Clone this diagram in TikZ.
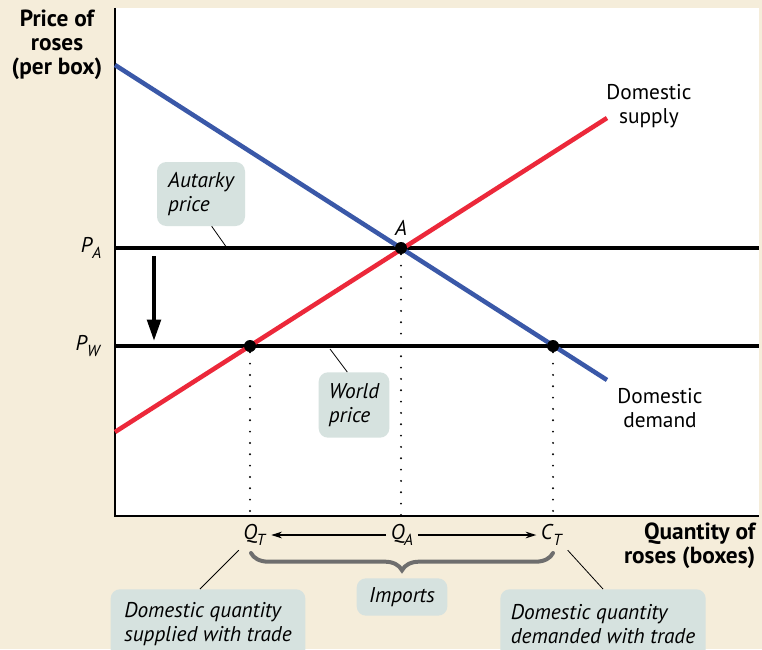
\documentclass[tikz,border=0pt]{standalone}
\usepackage{fontspec}
\setmainfont{PT Sans}
\usetikzlibrary{arrows.meta,decorations.pathreplacing}

\definecolor{bgbeige}{RGB}{245,237,218}
\definecolor{demandblue}{RGB}{58,88,168}
\definecolor{supplyred}{RGB}{236,40,58}
\definecolor{calloutfill}{RGB}{214,226,223}
\definecolor{bracegray}{RGB}{110,110,110}

\newcommand{\itsub}[2]{\textit{#1}\kern-0.5pt\raisebox{-0.55ex}{\fontsize{12}{12}\selectfont\textit{#2}}}

\tikzset{
	curve/.style={line width=3.4pt},
	priceline/.style={line width=2.3pt},
	eqdot/.style={circle, fill=black, inner sep=0pt, minimum size=9pt},
	guide/.style={line width=1.6pt, line cap=round, dash pattern=on 0pt off 8.5pt},
	lab/.style={font=\fontsize{16}{18.5}\selectfont, align=center},
	callout/.style={fill=calloutfill, rounded corners=7pt, align=left, font=\fontsize{16}{18.5}\selectfont\itshape, inner xsep=7pt, inner ysep=5pt},
	leader/.style={line width=0.6pt},
	axlab/.style={font=\fontsize{17.5}{18}\selectfont\bfseries}
}

\begin{document}
\begin{tikzpicture}[x=0.75pt,y=0.75pt,yscale=-1,xscale=1]
	\useasboundingbox (0,0) rectangle (762,649);
	% background and plot area
	\fill[bgbeige] (0,0) rectangle (762,649);
	\fill[white] (115,8) rectangle (759,516);
	
	% axes
	\coordinate (origin) at (115,516);
	\coordinate (ytop) at (115,8);
	\coordinate (xend) at (759,516);
	\draw[line width=1.1pt] (ytop) -- (origin) -- (xend);
	
	% price lines
	\coordinate (paL) at (115,248);
	\coordinate (paR) at (759,248);
	\coordinate (pwL) at (115,346);
	\coordinate (pwR) at (759,346);
	\draw[priceline] (paL) -- (paR);
	\draw[priceline] (pwL) -- (pwR);
	
	% demand and supply
	\coordinate (dStart) at (115,65);
	\coordinate (dEnd) at (607,380);
	\coordinate (sStart) at (115,432);
	\coordinate (sEnd) at (607,118);
	\draw[curve, demandblue] (dStart) -- (dEnd);
	\draw[curve, supplyred] (sStart) -- (sEnd);
	
	% points
	\node[eqdot] (ptA) at (401,248) {};
	\node[eqdot] (ptQT) at (250,346) {};
	\node[eqdot] (ptCT) at (553,346) {};
	\node[font=\fontsize{16}{18.5}\selectfont\itshape] (labA) at (401,228) {A};
	
	% dotted guides
	\coordinate (qtFoot) at (250,516);
	\coordinate (qaFoot) at (401,516);
	\coordinate (ctFoot) at (553,516);
	\draw[guide] (ptQT) -- (qtFoot);
	\draw[guide] (ptA) -- (qaFoot);
	\draw[guide] (ptCT) -- (ctFoot);
	
	% price drop arrow
	\coordinate (arrTop) at (154,256);
	\coordinate (arrBot) at (154,341);
	\draw[line width=3pt, -{Triangle[length=16pt, width=10pt]}] (arrTop) -- (arrBot);
	
	% axis labels
	\node[lab, anchor=east] (pA) at (106,248) {\itsub{P}{A}};
	\node[lab, anchor=east] (pW) at (106,346) {\itsub{P}{W}};
	\node[axlab, align=center, anchor=north] (yLab) at (57,5) {Price of\\roses\\(per box)};
	\node[axlab, align=right, anchor=east] (xLab) at (760,546) {Quantity of\\roses (boxes)};
	
	% curve labels
	\node[lab] (supplyLab) at (649,106) {Domestic\\supply};
	\node[lab] (demandLab) at (660,408) {Domestic\\demand};
	
	% callouts
	\node[callout, minimum width=66pt, minimum height=48pt] (autBox) at (201,194) {Autarky\\price};
	\node[callout, minimum width=53pt, minimum height=49pt] (worldBox) at (354,405) {World\\price};
	\coordinate (autTouch) at (227,248);
	\coordinate (worldTouch) at (330,349);
	\draw[leader] ([xshift=8pt]autBox.south) -- (autTouch);
	\draw[leader] ([xshift=-5pt]worldBox.north) -- (worldTouch);
	
	% quantities
	\node[lab] (qT) at (255,535) {\itsub{Q}{T}};
	\node[lab] (qA) at (402,535) {\itsub{Q}{A}};
	\node[lab] (cT) at (552,535) {\itsub{C}{T}};
	\draw[line width=0.8pt, -{Stealth[length=8pt, width=5pt]}] (qA) -- (qT);
	\draw[line width=0.8pt, -{Stealth[length=8pt, width=5pt]}] (qA) -- (cT);
	
	% imports brace
	\coordinate (brR) at (553,553);
	\coordinate (brL) at (251,553);
	\draw[bracegray, line width=3pt, line cap=round,
	decorate, decoration={brace, amplitude=13pt}] (brR) -- (brL);
	
	\node[callout, minimum width=68pt, minimum height=28pt] (importsBox) at (402,597) {Imports};
	\node[callout, minimum width=146pt, minimum height=52pt, anchor=north] (leftBox) at (208,589) {Domestic quantity\\supplied with trade};
	\node[callout, minimum width=154pt, minimum height=52pt, anchor=north] (rightBox) at (603,589) {Domestic quantity\\demanded with trade};
	\draw[leader] (qT.south west) -- ([xshift=-6pt]leftBox.north);
	\draw[leader] (cT.south east) -- (rightBox.north);
\end{tikzpicture}
\end{document}
